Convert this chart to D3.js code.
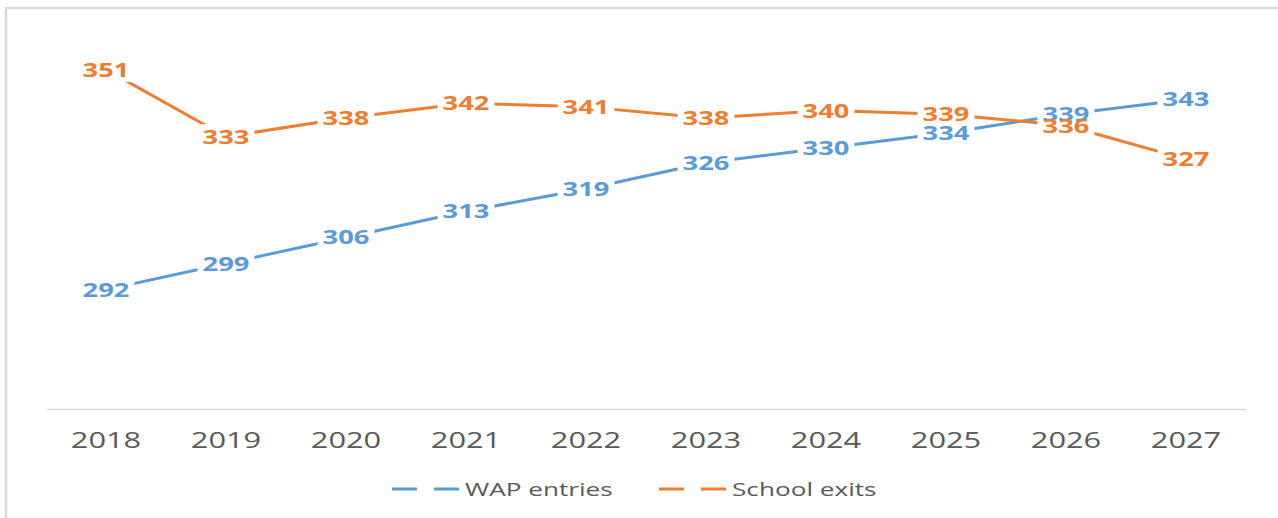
<!DOCTYPE html>
<html>
<head>
<meta charset="utf-8">
<script src="https://cdn.jsdelivr.net/npm/d3@7/dist/d3.min.js"></script>
<style>
  html, body { margin: 0; padding: 0; background: #ffffff; }
  svg { display: block; }
</style>
</head>
<body>
<svg id="chart" width="1278" height="518"></svg>
<script>
// Years on the category axis
const years = ["2018", "2019", "2020", "2021", "2022", "2023", "2024", "2025", "2026", "2027"];
// Working-age population entries (thousands)
const wapEntries = [292, 299, 306, 313, 319, 326, 330, 334, 339, 343];
// School exits (thousands)
const schoolExits = [351, 333, 338, 342, 341, 338, 340, 339, 336, 327];
const seriesNames = ["WAP entries", "School exits"];
const seriesColors = ["#5B9BD5", "#ED7D31"];

const W = 1278, H = 518;
const SX = 1.4; // horizontal text stretch
const font = "'Open Sans', 'Noto Sans', sans-serif";

const svg = d3.select("#chart");

// outer chart frame
svg.append("rect")
  .attr("x", 6).attr("y", 8)
  .attr("width", W + 20).attr("height", H + 20)
  .attr("fill", "#ffffff")
  .attr("stroke", "#d9d9d9").attr("stroke-width", 2.5);

const x = d3.scaleBand().domain(years).range([46, 1246]).padding(0);
const cx = d => x(d) + x.bandwidth() / 2;
const y = d3.scaleLinear().domain([260, 360]).range([409, 36]);

// category axis
const xAxis = d3.axisBottom(x).tickSize(0).tickPadding(0);
const gx = svg.append("g").attr("transform", "translate(0,409)").call(xAxis);
gx.select(".domain").attr("stroke", "#d9d9d9").attr("stroke-width", 1.5);
gx.selectAll(".tick text")
  .attr("font-family", font)
  .attr("font-size", "22px")
  .attr("fill", "#595959")
  .attr("dy", null)
  .attr("y", 0)
  .attr("transform", `translate(0,39) scale(${SX},1)`);

const series = [wapEntries, schoolExits].map((vals, i) => ({
  name: seriesNames[i],
  color: seriesColors[i],
  points: years.map((yr, j) => ({ year: yr, value: vals[j] }))
}));

const line = d3.line().x(d => cx(d.year)).y(d => y(d.value));

// series lines
svg.append("g").selectAll("path")
  .data(series)
  .join("path")
  .attr("d", s => line(s.points))
  .attr("fill", "none")
  .attr("stroke", s => s.color)
  .attr("stroke-width", 3)
  .attr("stroke-linejoin", "round");

// data labels: white boxes first, then the text on top
const labelData = series.flatMap(s => s.points.map(p => ({ ...p, color: s.color })));
const boxLayer = svg.append("g");
const textLayer = svg.append("g");

const texts = textLayer.selectAll("text")
  .data(labelData)
  .join("text")
  .attr("transform", d => `translate(${cx(d.year)},${y(d.value)}) scale(${SX},1)`)
  .attr("text-anchor", "middle")
  .attr("dy", "0.36em")
  .attr("font-family", font)
  .attr("font-weight", 700)
  .attr("font-size", "19.5px")
  .attr("fill", d => d.color)
  .text(d => d3.format("d")(d.value));

texts.each(function(d) { d.tw = this.getComputedTextLength() * SX; });

boxLayer.selectAll("rect")
  .data(labelData)
  .join("rect")
  .attr("x", d => cx(d.year) - d.tw / 2 - 5)
  .attr("y", d => y(d.value) - 12.5)
  .attr("width", d => d.tw + 10)
  .attr("height", 25)
  .attr("fill", "#ffffff");

// legend
const legendItems = [
  { name: seriesNames[0], color: seriesColors[0], x0: 392 },
  { name: seriesNames[1], color: seriesColors[1], x0: 659 }
];
const lg = svg.append("g").selectAll("g")
  .data(legendItems)
  .join("g")
  .attr("transform", d => `translate(${d.x0},489)`);
lg.append("line")
  .attr("x1", 0).attr("x2", 68)
  .attr("y1", 0).attr("y2", 0)
  .attr("stroke", d => d.color)
  .attr("stroke-width", 3)
  .attr("stroke-dasharray", "25,17");
lg.append("text")
  .attr("transform", `translate(73,7) scale(${SX},1)`)
  .attr("font-family", font)
  .attr("font-size", "18.7px")
  .attr("fill", "#595959")
  .text(d => d.name);
</script>
</body>
</html>
